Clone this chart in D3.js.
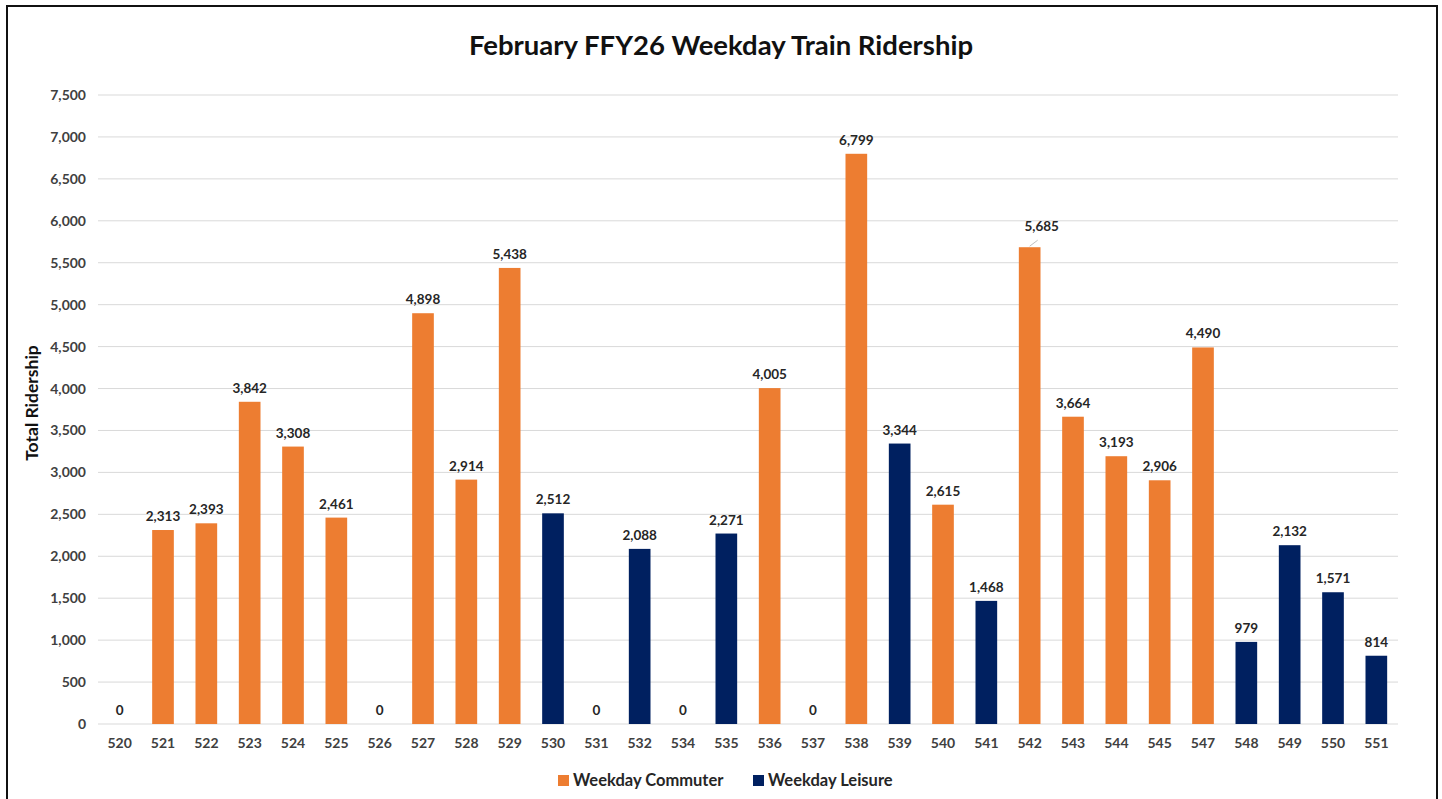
<!DOCTYPE html>
<html>
<head>
<meta charset="utf-8">
<script src="https://cdn.jsdelivr.net/npm/d3@7"></script>
<style>
  body { margin: 0; background: #fff; }
  svg text { font-family: Lato, "Open Sans", sans-serif; }
</style>
</head>
<body>
<div id="chart"></div>
<script>
// Train numbers on the x axis
var trains = ["520","521","522","523","524","525","526","527","528","529","530","531","532","534","535",
              "536","537","538","539","540","541","542","543","544","545","547","548","549","550","551"];
// Weekday Commuter ridership (null = not a commuter train)
var commuter = [0,2313,2393,3842,3308,2461,0,4898,2914,5438,null,0,null,0,null,
                4005,0,6799,null,2615,null,5685,3664,3193,2906,4490,null,null,null,null];
// Weekday Leisure ridership
var leisure = [null,null,null,null,null,null,null,null,null,null,2512,null,2088,null,2271,
               null,null,null,3344,null,1468,null,null,null,null,null,979,2132,1571,814];
var yTicks = [0,500,1000,1500,2000,2500,3000,3500,4000,4500,5000,5500,6000,6500,7000,7500];

var colors = {commuter: "#ED7D31", leisure: "#002060"};

var W = 1442, H = 799;
var margin = {top: 95, left: 98};
var width = 1300,
    height = 629;

var svg = d3.select("#chart").append("svg")
    .attr("width", W).attr("height", H);

// outer frame
svg.append("rect")
    .attr("x", 7).attr("y", 6).attr("width", 1430).attr("height", 800)
    .attr("fill", "#fff").attr("stroke", "#111").attr("stroke-width", 2);

var g = svg.append("g").attr("transform", "translate(" + margin.left + "," + margin.top + ")");

var x = d3.scaleBand().domain(trains).range([0, width]).paddingInner(0.5).paddingOuter(0.25);
var y = d3.scaleLinear().domain([0, 7500]).range([height, 0]);

// gridlines
g.append("g")
  .selectAll("line")
  .data(yTicks)
  .enter().append("line")
    .attr("x1", 0).attr("x2", width)
    .attr("y1", d => y(d)).attr("y2", d => y(d))
    .attr("stroke", "#d9d9d9").attr("stroke-width", 1);

// y axis labels
var yAxis = g.append("g")
    .call(d3.axisLeft(y).tickValues(yTicks).tickSize(0).tickPadding(12).tickFormat(d3.format(",")));
yAxis.select(".domain").remove();
yAxis.selectAll("text")
    .style("font-size", "14px").style("font-weight", "bold").attr("fill", "#404040");

// x axis labels
var xAxis = g.append("g")
    .attr("transform", "translate(0," + height + ")")
    .call(d3.axisBottom(x).tickSize(0).tickPadding(14));
xAxis.select(".domain").remove();
xAxis.selectAll("text")
    .style("font-size", "14px").style("font-weight", "bold").attr("fill", "#404040");

// combine into one list of points
var points = trains.map(function (t, i) {
    if (leisure[i] != null) return {train: t, value: leisure[i], series: "leisure"};
    return {train: t, value: commuter[i], series: "commuter"};
});

// bars
g.append("g")
  .selectAll("rect")
  .data(points)
  .enter().append("rect")
    .attr("x", d => x(d.train))
    .attr("width", x.bandwidth())
    .attr("y", d => y(d.value))
    .attr("height", d => height - y(d.value))
    .attr("fill", d => colors[d.series]);

// data labels (542 label is nudged up-right with a leader line)
var fmt = d3.format(",");
g.append("g")
  .selectAll("text")
  .data(points)
  .enter().append("text")
    .attr("x", d => x(d.train) + x.bandwidth() / 2 + (d.train == "542" ? 12 : 0))
    .attr("y", d => y(d.value) - 9 - (d.train == "542" ? 7 : 0))
    .attr("text-anchor", "middle")
    .style("font-size", "13.5px").style("font-weight", "bold")
    .attr("fill", "#262626")
    .text(d => fmt(d.value));

var p542 = points.find(d => d.train == "542");
g.append("line")
    .attr("x1", x("542") + x.bandwidth() / 2).attr("y1", y(p542.value) - 1)
    .attr("x2", x("542") + x.bandwidth() / 2 + 8).attr("y2", y(p542.value) - 7)
    .attr("stroke", "#bfbfbf").attr("stroke-width", 1);

// title
svg.append("text")
    .attr("x", 721).attr("y", 55)
    .attr("text-anchor", "middle")
    .style("font-size", "27.5px").style("font-weight", "bold")
    .attr("fill", "#111")
    .text("February FFY26 Weekday Train Ridership");

// y axis title
svg.append("text")
    .attr("transform", "translate(38," + (margin.top + 308) + ") rotate(-90)")
    .attr("text-anchor", "middle")
    .style("font-size", "17.5px").style("font-weight", "bold")
    .attr("fill", "#111")
    .text("Total Ridership");

// legend
var legendItems = [
    {label: "Weekday Commuter", color: colors.commuter, x: 558},
    {label: "Weekday Leisure", color: colors.leisure, x: 753}
];
var legend = svg.append("g");
legendItems.forEach(function (d) {
    legend.append("rect")
        .attr("x", d.x).attr("y", 775).attr("width", 11).attr("height", 11)
        .attr("fill", d.color);
    legend.append("text")
        .attr("x", d.x + 15).attr("y", 786)
        .style("font-size", "16.5px").style("font-weight", "bold")
        .attr("fill", "#262626")
        .text(d.label);
});
</script>
</body>
</html>
